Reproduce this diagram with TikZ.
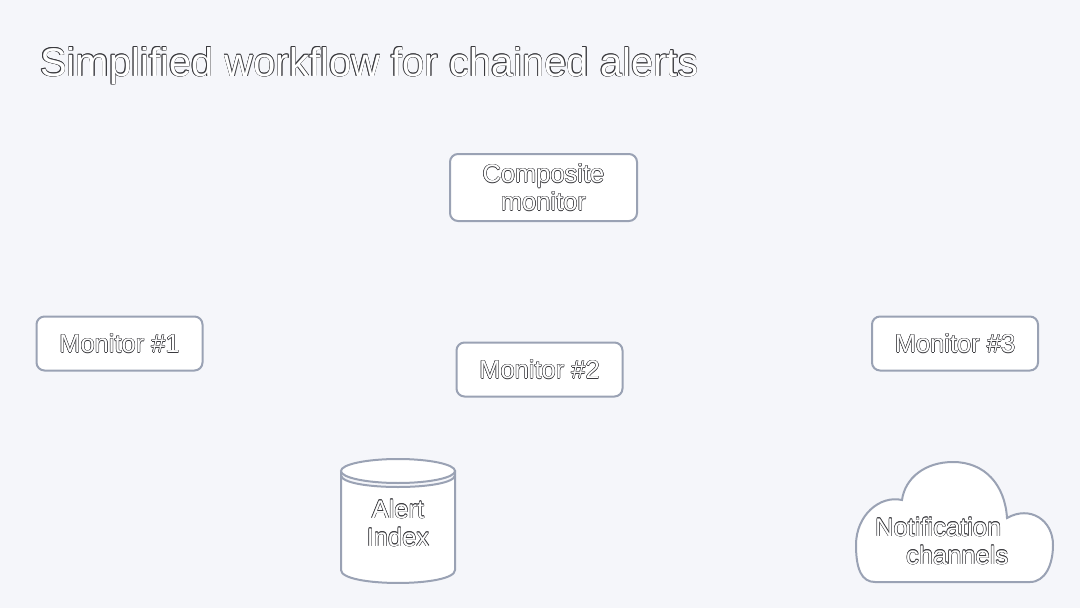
\documentclass[tikz,border=0pt]{standalone}
\usepackage{fontspec}
\setmainfont{Liberation Sans}
\definecolor{bg}{HTML}{F5F6FA}
\definecolor{edge}{HTML}{9AA2B4}
\definecolor{olc}{HTML}{3A3A3E}
\newcommand\osh[3]{\rlap{\kern#1\raisebox{#2}{#3}}}
\newcommand\olt[1]{{\color{olc}%
  \osh{0.5pt}{0pt}{#1}\osh{-0.5pt}{0pt}{#1}\osh{0pt}{0.5pt}{#1}\osh{0pt}{-0.5pt}{#1}%
  \osh{0.36pt}{0.36pt}{#1}\osh{-0.36pt}{0.36pt}{#1}\osh{0.36pt}{-0.36pt}{#1}\osh{-0.36pt}{-0.36pt}{#1}}#1}
\tikzset{
  otext/.style={text=white, inner sep=0pt},
  lbl/.style={otext, font=\fontsize{25.5}{28}\selectfont, align=center},
  mbox/.style={lbl, draw=edge, fill=white, line width=2pt, rounded corners=8pt},
  shapeline/.style={draw=edge, fill=white, line width=2pt},
}
\begin{document}
\begin{tikzpicture}[x=1pt,y=-1pt]
\fill[bg] (0,0) rectangle (1080,608);
\useasboundingbox (0,0) rectangle (1080,608);
\node[otext, anchor=base west, font=\fontsize{40}{48}\selectfont] (title) at (40,76) {\olt{Simplified workflow for chained alerts}};
\node[mbox, minimum width=187pt, minimum height=67pt] (comp) at (543.5,187.5) {\olt{Composite}\\\olt{monitor}};
\node[mbox, minimum width=166pt, minimum height=54pt] (m1) at (119.5,343.5) {\olt{Monitor \#1}};
\node[mbox, minimum width=166pt, minimum height=54pt] (m2) at (539.5,369.5) {\olt{Monitor \#2}};
\node[mbox, minimum width=166pt, minimum height=54pt] (m3) at (955,343.5) {\olt{Monitor \#3}};
% cylinder
\path[shapeline] (341,475) -- (341,570) .. controls (341,587.3) and (455,587.3) .. (455,570)
  -- (455,475) .. controls (455,491) and (341,491) .. (341,475) -- cycle;
\path[shapeline] (398,471) ellipse [x radius=57, y radius=12];
\node[lbl] (idx) at (398,523) {\olt{Alert}\\\olt{Index}};
% cloud
\path[shapeline] (875,582) -- (1030,582) .. controls (1045,582) and (1053,565) .. (1053,545)
  .. controls (1053,520) and (1030,505) .. (1007,518)
  .. controls (1005,485) and (985,462) .. (953,462)
  .. controls (925,462) and (905,478) .. (902,500)
  .. controls (880,495) and (856,515) .. (856,545)
  .. controls (856,570) and (862,582) .. (875,582) -- cycle;
\node[lbl, align=left, anchor=north west] (notif) at (875,517) {\olt{Notification}\\\hspace*{31pt}\olt{channels}};
\end{tikzpicture}
\end{document}
